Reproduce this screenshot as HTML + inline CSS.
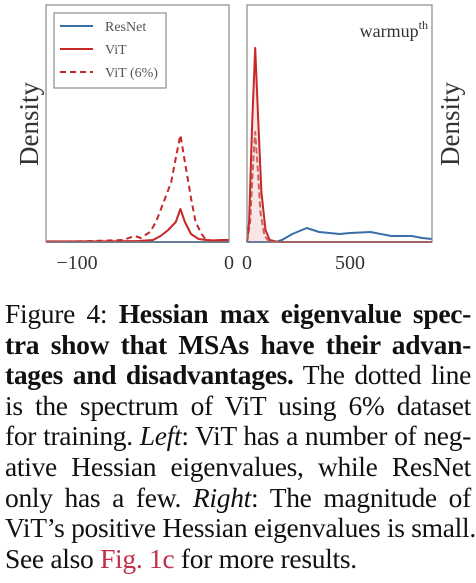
<!DOCTYPE html>
<html><head><meta charset="utf-8"><style>
body{margin:0;background:#fff;width:476px;height:583px;overflow:hidden;position:relative}
#cap{position:absolute;left:5px;top:299px;width:466px;font-family:"Liberation Serif",serif;font-size:27.5px;line-height:30.6px;color:#111;letter-spacing:-0.3px}
#cap div{text-align:justify;text-align-last:justify;white-space:nowrap}
#cap div.last{text-align-last:left}
svg text{font-family:"Liberation Serif",serif}
</style></head><body>
<svg id="chart" width="476" height="290" style="position:absolute;left:0;top:0"></svg>
<div id="cap">
<div>Figure 4: <b>Hessian max eigenvalue spec-</b></div>
<div><b>tra show that MSAs have their advan-</b></div>
<div><b>tages and disadvantages.</b> The dotted line</div>
<div>is the spectrum of ViT using 6% dataset</div>
<div>for training. <i>Left</i>: ViT has a number of neg-</div>
<div>ative Hessian eigenvalues, while ResNet</div>
<div>only has a few. <i>Right</i>: The magnitude of</div>
<div>ViT’s positive Hessian eigenvalues is small.</div>
<div class="last">See also <span style="color:#c0304a">Fig. 1c</span> for more results.</div>
</div>
<script>
const leftVitX=[-120,-80,-60,-50,-45,-40,-35,-32,-29,-25,-20,-15,-10,-5,0];
const leftVitY=[0.003,0.003,0.005,0.01,0.03,0.06,0.10,0.165,0.10,0.04,0.015,0.01,0.008,0.01,0.01];
const leftVit6X=[-120,-90,-70,-62,-58,-52,-48,-45,-42,-38,-35,-32,-29,-25,-22,-18,-15,-10,0];
const leftVit6Y=[0,0.005,0.01,0.03,0.02,0.05,0.1,0.16,0.22,0.3,0.42,0.535,0.4,0.22,0.1,0.04,0.01,0.005,0];
const leftResX=[-120,0];
const leftResY=[0,0];
const rightVitX=[0,10,25,40,55,70,90,110,150,898];
const rightVitY=[0,0.1,0.6,0.97,0.6,0.25,0.06,0.01,0,0];
const rightVit6X=[0,15,30,40,50,65,85,110,898];
const rightVit6Y=[0,0.1,0.4,0.55,0.4,0.15,0.03,0,0];
const rightResX=[0,140,170,220,290,350,450,500,600,700,800,850,898];
const rightResY=[0,0,0.01,0.04,0.07,0.05,0.04,0.045,0.05,0.03,0.03,0.02,0.015];
const leftTicks=[-100,0];
const rightTicks=[0,500];
const NS="http://www.w3.org/2000/svg";
const svg=document.getElementById('chart');
function mk(t,a,p){const e=document.createElementNS(NS,t);for(const k in a)e.setAttribute(k,a[k]);(p||svg).appendChild(e);return e;}
const yS=d=>242-d*200;
const lx=v=>229+(v)*1.52;
const rx=v=>247+v*0.206;
const BLUE="#3a6ea8",RED="#c62828";
function path(xs,ys,sx){return xs.map((x,i)=>(i?'L':'M')+sx(x).toFixed(1)+','+yS(ys[i]).toFixed(1)).join(' ');}
function line(xs,ys,sx,col,dash,name){
 const e=mk('path',{d:path(xs,ys,sx),fill:'none',stroke:col,'stroke-width':2,'stroke-dasharray':dash||'none','stroke-linejoin':'round'});
 
 
}
const fp=mk('path',{d:path(rightVitX,rightVitY,rx)+' L'+rx(898)+',242 L'+rx(0)+',242 Z',fill:'#f4d4d4',opacity:0.6});


line(leftResX,leftResY,lx,BLUE,null,'left-resnet-line');
line(leftVit6X,leftVit6Y,lx,RED,'6,4','left-vit6-line');
line(leftVitX,leftVitY,lx,RED,null,'left-vit-line');
line(rightResX,rightResY,rx,BLUE,null,'right-resnet-line');
line(rightVit6X,rightVit6Y,rx,'#d06060','6,3','right-vit6-line');
line(rightVitX,rightVitY,rx,RED,null,'right-vit-line');
const f1=mk('rect',{x:46,y:5,width:183,height:237,fill:'none',stroke:'#888','stroke-width':1.2});


const f2=mk('rect',{x:247,y:5,width:185,height:237,fill:'none',stroke:'#888','stroke-width':1.2});


leftTicks.forEach(t=>{const e=mk('text',{x:lx(t),y:269,'text-anchor':'middle','font-size':20,fill:'#333'});e.textContent=t<0?'−'+(-t):t;

});
rightTicks.forEach(t=>{const e=mk('text',{x:rx(t),y:269,'text-anchor':'middle','font-size':20,fill:'#333'});e.textContent=t;

});
[[38,'left-y-axis-title'],[459,'right-y-axis-title']].forEach(([x,n])=>{const e=mk('text',{x:x,y:124,'text-anchor':'middle','font-size':27,fill:'#333',transform:`rotate(-90 ${x} 124)`});e.textContent='Density';

});
const w=mk('text',{x:428,y:37,'text-anchor':'end','font-size':18,fill:'#333'});w.innerHTML='warmup<tspan dy="-8" font-size="12">th</tspan>';


const lg=mk('rect',{x:54,y:13,width:112,height:75,fill:'#fff',stroke:'#777','stroke-width':1});


[['ResNet',BLUE,null,26],['ViT',RED,null,49],['ViT (6%)',RED,'6,4',72]].forEach(([t,c,d,y])=>{
 const l=mk('line',{x1:60,x2:93,y1:y,y2:y,stroke:c,'stroke-width':2,'stroke-dasharray':d||'none'});
 
 
 const e=mk('text',{x:105,y:y+5,'font-size':14,fill:'#555'});e.textContent=t;
 
 
});
</script>
</body></html>
